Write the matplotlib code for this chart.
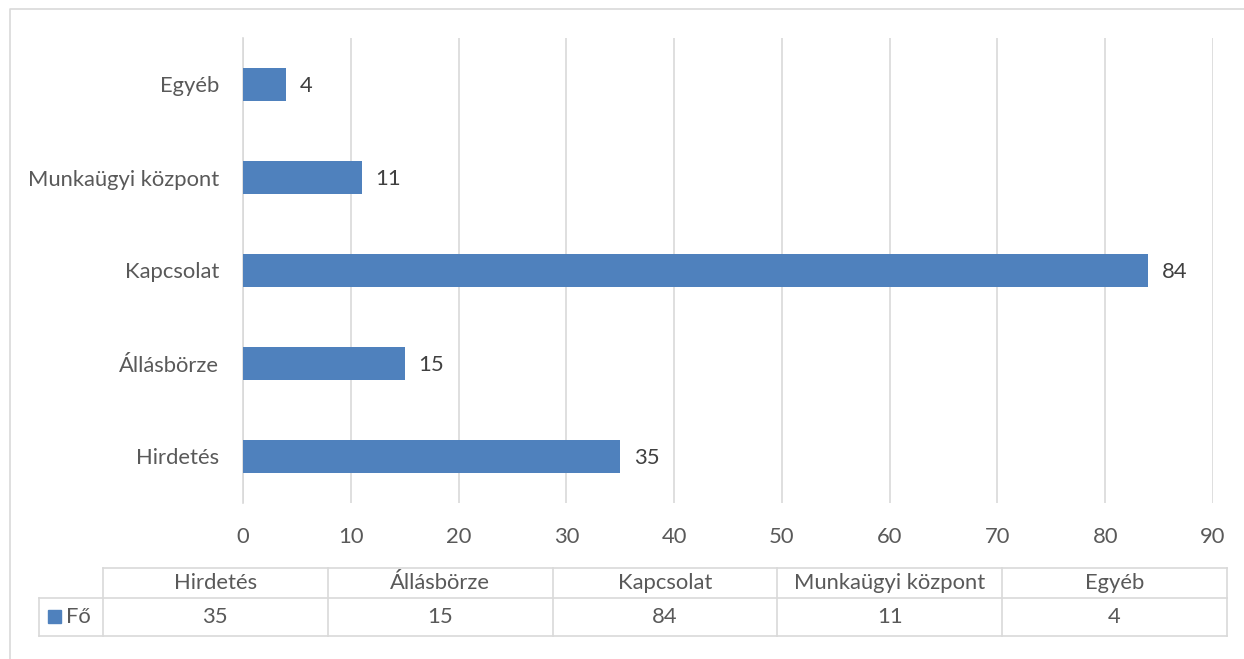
import matplotlib.pyplot as plt
from matplotlib.patches import Rectangle

# Fő per source
categories = ["Hirdetés", "Állásbörze", "Kapcsolat", "Munkaügyi központ", "Egyéb"]
values = [35, 15, 84, 11, 4]
series_name = "Fő"
x_ticks = [0, 10, 20, 30, 40, 50, 60, 70, 80, 90]

BAR = "#4F81BD"
GRID = "#D9D9D9"
TEXT = "#595959"
FONT = "Lato"
FS = 15.8

plt.rcParams["font.family"] = [FONT, "DejaVu Sans"]

W, H = 1244, 659
fig = plt.figure(figsize=(W / 100, H / 100), dpi=100)

# pixel-space overlay for frame and data table
bg = fig.add_axes([0, 0, 1, 1])
bg.set_xlim(0, W)
bg.set_ylim(H, 0)
bg.axis("off")
bg.plot([10, 10, W], [H, 9, 9], color=GRID, lw=1.2)

ax = fig.add_axes([243 / W, 1 - 503 / H, (1213 - 243) / W, (503 - 38) / H])
pos = list(range(len(categories)))
ax.barh(pos, values, height=0.355, color=BAR, zorder=3)
for p, v in zip(pos, values):
    ax.annotate(str(v), (v, p), xytext=(10, -1), textcoords="offset points",
                va="center", ha="left", fontsize=FS, color="#404040")

ax.set_xlim(0, 90)
ax.set_ylim(-0.5, len(categories) - 0.5)
ax.set_xticks(x_ticks)
ax.set_yticks(pos)
ax.set_yticklabels(categories)
ax.tick_params(axis="both", length=0, labelsize=FS, labelcolor=TEXT)
ax.tick_params(axis="x", pad=17)
ax.tick_params(axis="y", pad=17)
ax.grid(axis="x", color=GRID, lw=1.2, zorder=0)
for s in ["top", "right", "bottom"]:
    ax.spines[s].set_visible(False)
ax.spines["left"].set_color(GRID)
ax.spines["left"].set_linewidth(1.2)

# data table below the axis
left, legend_right, right = 39, 103, 1227
top, mid, bottom = 568, 598, 636
col_w = (right - legend_right) / len(categories)
bounds = [legend_right + i * col_w for i in range(len(categories) + 1)]
lw = 1.2
bg.plot([legend_right, right], [top, top], color=GRID, lw=lw)
bg.plot([left, right], [mid, mid], color=GRID, lw=lw)
bg.plot([left, right], [bottom, bottom], color=GRID, lw=lw)
bg.plot([left, left], [mid, bottom], color=GRID, lw=lw)
for b in bounds:
    bg.plot([b, b], [top, bottom], color=GRID, lw=lw)
for i, (c, v) in enumerate(zip(categories, values)):
    cx = (bounds[i] + bounds[i + 1]) / 2
    bg.text(cx, (top + mid) / 2, c, ha="center", va="center", fontsize=FS, color=TEXT)
    bg.text(cx, (mid + bottom) / 2, str(v), ha="center", va="center", fontsize=FS, color=TEXT)
bg.add_patch(Rectangle((48, 610), 13, 13, color=BAR))
bg.text(66, (mid + bottom) / 2, series_name, ha="left", va="center", fontsize=FS, color=TEXT)

fig.savefig("out.png", dpi=100)
